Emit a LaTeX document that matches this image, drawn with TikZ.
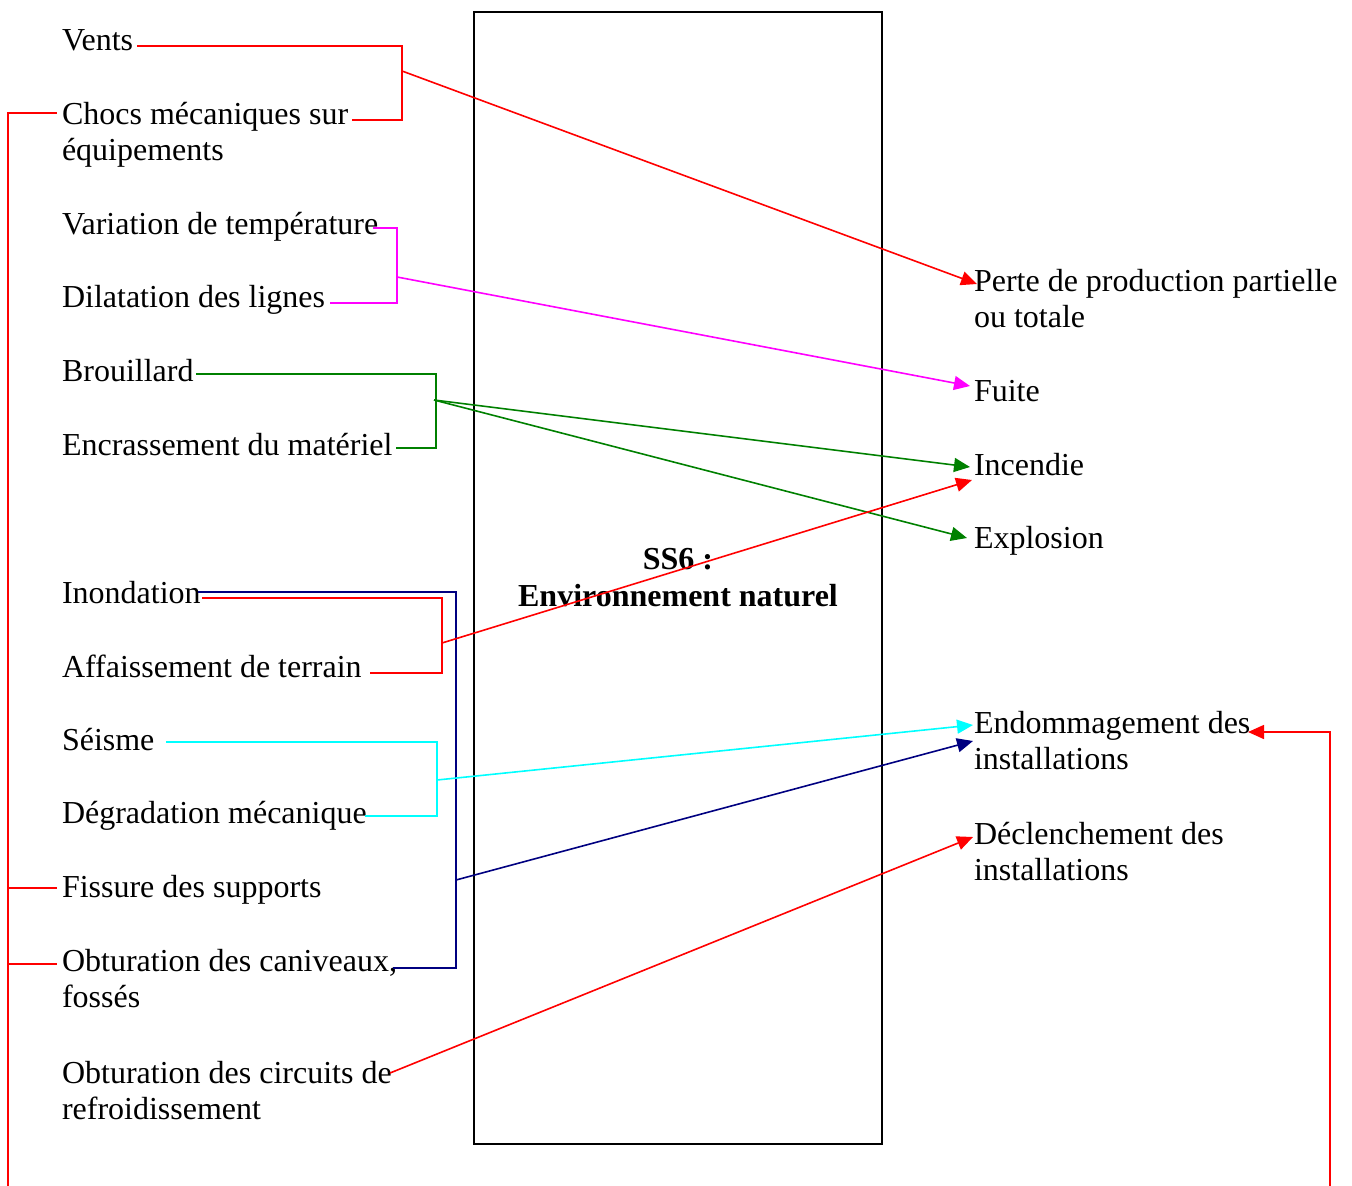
\documentclass[tikz,border=0pt]{standalone}
\usepackage{fontspec}
\setmainfont{Liberation Serif}
\usetikzlibrary{arrows.meta}
\definecolor{navyline}{RGB}{0,0,128}
\definecolor{greenline}{RGB}{0,128,0}
\definecolor{redline}{RGB}{255,0,0}
\definecolor{magentaline}{RGB}{255,0,255}
\definecolor{cyanline}{RGB}{0,255,255}
\begin{document}
\begin{tikzpicture}[x=0.5pt,y=-0.5pt,
  every node/.style={inner sep=0pt, outer sep=0pt},
  item/.style={anchor=base west, align=left, font=\fontsize{16}{18}\selectfont},
  link/.style={line width=0.8pt},
  tip/.style={-{Triangle[length=8pt,width=7pt]}},
]
\useasboundingbox (0,0) rectangle (1352,1186);

% central subsystem box
\node[draw, line width=1pt, minimum width=204pt, minimum height=566pt,
      align=center, font=\fontsize{16}{18.5}\selectfont\bfseries]
      (ss6) at (678,578) {SS6 :\\Environnement naturel};

% causes (two-line labels are placed by the baseline of their last line)
\node[item] (vents)    at (62,51)   {Vents};
\node[item] (chocs)    at (62,161)  {Chocs mécaniques sur\\équipements};
\node[item] (temp)     at (62,235)  {Variation de température};
\node[item] (dilat)    at (62,308)  {Dilatation des lignes};
\node[item] (brouil)   at (62,382)  {Brouillard};
\node[item] (encras)   at (62,456)  {Encrassement du matériel};
\node[item] (inond)    at (62,603)  {Inondation};
\node[item] (affais)   at (62,677)  {Affaissement de terrain};
\node[item] (seisme)   at (62,750)  {Séisme};
\node[item] (degrad)   at (62,823)  {Dégradation mécanique};
\node[item] (fissure)  at (62,897)  {Fissure des supports};
\node[item] (caniv)    at (62,1007) {Obturation des caniveaux,\\fossés};
\node[item] (circuits) at (62,1119) {Obturation des circuits de\\refroidissement};

% consequences
\node[item] (perte)     at (974,328) {Perte de production partielle\\ou totale};
\node[item] (fuite)     at (974,402) {Fuite};
\node[item] (incendie)  at (974,476) {Incendie};
\node[item] (explosion) at (974,548) {Explosion};
\node[item] (endom)     at (974,769) {Endommagement des\\installations};
\node[item] (declen)    at (974,880) {Déclenchement des\\installations};

% junction points of the brackets
\coordinate (jv) at (402,71);
\coordinate (jt) at (397,277);
\coordinate (jb) at (434,400);
\coordinate (ji) at (456,880);
\coordinate (ja) at (442,643);
\coordinate (js) at (437,780);

% arrow tips next to the consequences
\coordinate (tperte)  at (977,284);
\coordinate (tfuite)  at (970,386);
\coordinate (tinc)    at (970,467);
\coordinate (tinc2)   at (972,480);
\coordinate (texpl)   at (967,538);
\coordinate (tend)    at (973,725);
\coordinate (tend2)   at (973,741);
\coordinate (tdec)    at (973,837);
\coordinate (tend3)   at (1248,732);

% loose ends of the side lines
\coordinate (lbot) at (8,1186);
\coordinate (rbot) at (1330,1186);

% red: vents / chocs
\draw[link,redline] (137,46) -| (402,120) -- (352,120);
\draw[link,redline,tip] (jv) -- (tperte);

% red side line on the left
\draw[link,redline] (lbot) -- (8,113) -- (57,113);
\draw[link,redline] (8,888) -- (57,888);
\draw[link,redline] (8,964) -- (57,964);

% magenta: temperature / dilatation
\draw[link,magentaline] (373,228) -| (397,303) -- (330,303);
\draw[link,magentaline,tip] (jt) -- (tfuite);

% green: brouillard / encrassement
\draw[link,greenline] (196,374) -| (436,448) -- (396,448);
\draw[link,greenline,tip] (jb) -- (tinc);
\draw[link,greenline,tip] (jb) -- (texpl);

% navy: inondation / obturation des caniveaux
\draw[link,navyline] (198,592) -| (456,968) -- (393,968);
\draw[link,navyline,tip] (ji) -- (tend2);

% red: inondation / affaissement
\draw[link,redline] (202,598) -| (442,673) -- (370,673);
\draw[link,redline,tip] (ja) -- (tinc2);

% cyan: seisme / degradation
\draw[link,cyanline] (166,742) -| (437,816) -- (365,816);
\draw[link,cyanline,tip] (js) -- (tend);

% red: circuits de refroidissement
\draw[link,redline,tip] (390,1073) -- (tdec);

% red side line on the right
\draw[link,redline,tip] (rbot) -- (1330,732) -- (tend3);
\end{tikzpicture}
\end{document}
